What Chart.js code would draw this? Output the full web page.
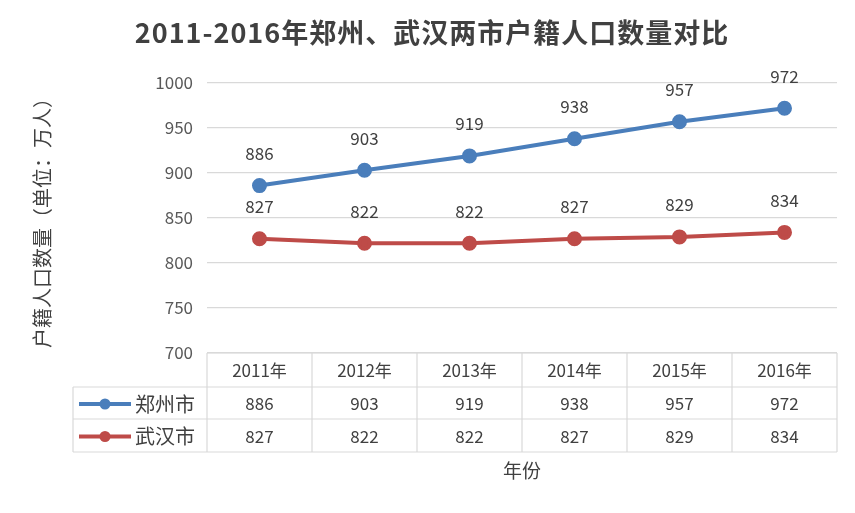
<!DOCTYPE html>
<html><head><meta charset="utf-8">
<script src="https://cdn.jsdelivr.net/npm/chart.js@4.4.1/dist/chart.umd.min.js"></script>
<style>html,body{margin:0;padding:0;background:#fff}#wrap{width:855px;height:513px;position:relative}</style>
</head><body><div id="wrap"><canvas id="c" width="855" height="513"></canvas></div>
<script>
const years = ["2011年","2012年","2013年","2014年","2015年","2016年"];
const zhengzhou = [886, 903, 919, 938, 957, 972];
const wuhan = [827, 822, 822, 827, 829, 834];
const seriesNames = ["郑州市","武汉市"];
const seriesColors = ["#4A7EBB","#BE4B48"];
const titleText = "2011-2016年郑州、武汉两市户籍人口数量对比";
const yTitle = "户籍人口数量（单位：万人）";
const xTitle = "年份";
const FONT = "'Noto Sans CJK SC', 'Noto Sans', sans-serif";

const extras = {
  id: 'extras',
  afterDraw(chart) {
    const ctx = chart.ctx, ca = chart.chartArea, xs = chart.scales.x;
    ctx.save();
    // title
    ctx.fillStyle = '#404040';
    ctx.font = "bold 27px " + FONT;
    ctx.letterSpacing = "1px";
    ctx.textAlign = 'center'; ctx.textBaseline = 'middle';
    ctx.fillText(titleText, 432, 33);
    ctx.letterSpacing = "0px";
    // y title
    ctx.save();
    ctx.translate(42, 218); ctx.rotate(-Math.PI/2);
    ctx.font = "20px " + FONT; ctx.fillStyle = '#404040';
    ctx.fillText(yTitle, 0, 0);
    ctx.restore();
    // data labels
    ctx.font = "17px " + FONT; ctx.fillStyle = '#404040';
    chart.data.datasets.forEach((ds, i) => {
      chart.getDatasetMeta(i).data.forEach((pt, j) => {
        ctx.fillText(String(ds.data[j]), pt.x, pt.y - 32);
      });
    });
    // table
    const n = years.length;
    const colW = (ca.right - ca.left) / n;
    const top = ca.bottom, r1 = top + 34, r2 = r1 + 32, bot = r2 + 33;
    const tleft = 73;
    ctx.strokeStyle = '#D9D9D9'; ctx.lineWidth = 1.2;
    ctx.beginPath();
    ctx.moveTo(ca.left, top); ctx.lineTo(ca.right, top);
    ctx.moveTo(tleft, r1); ctx.lineTo(ca.right, r1);
    ctx.moveTo(tleft, r2); ctx.lineTo(ca.right, r2);
    ctx.moveTo(tleft, bot); ctx.lineTo(ca.right, bot);
    ctx.moveTo(tleft, r1); ctx.lineTo(tleft, bot);
    for (let k = 0; k <= n; k++) {
      const x = ca.left + k * colW;
      ctx.moveTo(x, top); ctx.lineTo(x, bot);
    }
    ctx.stroke();
    ctx.fillStyle = '#404040';
    ctx.font = "17px " + FONT;
    years.forEach((y, j) => {
      const x = xs.getPixelForValue(j);
      ctx.fillText(y, x, (top + r1) / 2 + 1);
    });
    const rows = [[r1, r2], [r2, bot]];
    chart.data.datasets.forEach((ds, i) => {
      const cy = (rows[i][0] + rows[i][1]) / 2 + 1;
      ds.data.forEach((v, j) => ctx.fillText(String(v), xs.getPixelForValue(j), cy));
      // legend key
      ctx.strokeStyle = seriesColors[i]; ctx.lineWidth = 4;
      ctx.beginPath(); ctx.moveTo(79, cy); ctx.lineTo(131, cy); ctx.stroke();
      ctx.fillStyle = seriesColors[i];
      ctx.beginPath(); ctx.arc(105, cy, 5.5, 0, Math.PI * 2); ctx.fill();
      ctx.fillStyle = '#404040';
      ctx.font = "20px " + FONT; ctx.textAlign = 'left';
      ctx.fillText(seriesNames[i], 135, cy);
      ctx.textAlign = 'center'; ctx.font = "17px " + FONT;
    });
    // x title
    ctx.font = "19px " + FONT;
    ctx.fillText(xTitle, xs.getPixelForValue(2.5), 471);
    ctx.restore();
  }
};

new Chart(document.getElementById('c'), {
  type: 'line',
  data: {
    labels: years,
    datasets: [
      { label: seriesNames[0], data: zhengzhou, borderColor: seriesColors[0], backgroundColor: seriesColors[0], borderWidth: 4, pointRadius: 5.5, pointHoverRadius: 5.5, tension: 0 },
      { label: seriesNames[1], data: wuhan, borderColor: seriesColors[1], backgroundColor: seriesColors[1], borderWidth: 4, pointRadius: 5.5, pointHoverRadius: 5.5, tension: 0 }
    ]
  },
  options: {
    responsive: false, animation: false, devicePixelRatio: 1,
    layout: { padding: { top: 83, right: 18, bottom: 160, left: 0 } },
    plugins: { legend: { display: false }, title: { display: false }, tooltip: { enabled: false } },
    scales: {
      x: { display: false, offset: true },
      y: {
        min: 700, max: 1000,
        ticks: { stepSize: 50, color: '#595959', font: { size: 17, family: FONT }, padding: 14, callback: v => String(v) },
        grid: { color: '#D9D9D9', lineWidth: 1.2, drawTicks: false },
        border: { display: false },
        afterFit(s) { s.width = 207; }
      }
    }
  },
  plugins: [extras]
});
</script></body></html>
